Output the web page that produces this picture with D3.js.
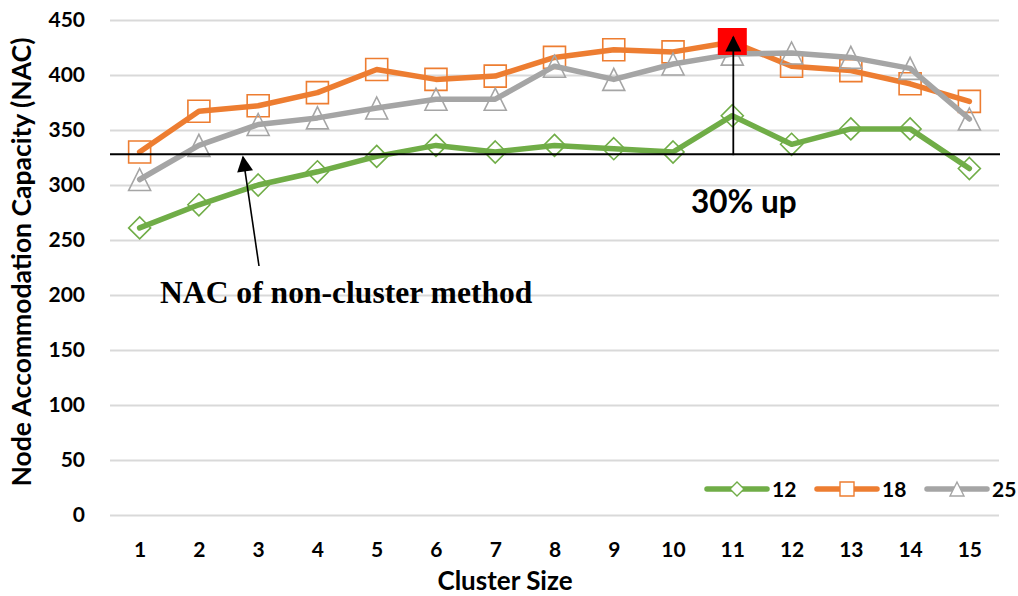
<!DOCTYPE html>
<html>
<head>
<meta charset="utf-8">
<script src="https://cdn.jsdelivr.net/npm/d3@7"></script>
<style>
  body { margin: 0; background: #ffffff; }
  svg { display: block; }
</style>
</head>
<body>
<svg id="chart" width="1018" height="596"></svg>
<script>
// Cluster sizes on the category axis
const clusterSizes = ["1", "2", "3", "4", "5", "6", "7", "8", "9", "10", "11", "12", "13", "14", "15"];
// Node accommodation capacity per cluster size, one array per series
const nac12 = [261, 282, 300, 312, 326, 336, 330, 336, 333, 330, 363, 337, 351, 351, 315];
const nac18 = [330, 367, 372, 384, 405, 396, 399, 416, 423, 421, 430, 408, 404, 392, 376];
const nac25 = [305, 336, 355, 361, 370, 378, 378, 408, 396, 410, 419, 420, 416, 406, 360];
const seriesNames = ["12", "18", "25"];
const yTicks = [0, 50, 100, 150, 200, 250, 300, 350, 400, 450];
// Reference level: NAC without clustering
const nonClusterNAC = 328;
// Highlighted best point (series 18, cluster size 11)
const peakSeries = 1;
const peakIndex = 10;

const svg = d3.select("#chart");
const margin = { left: 110, right: 19, top: 20, bottom: 81 };
const W = 1018, H = 596;
const plotL = margin.left, plotR = W - margin.right;
const plotT = margin.top, plotB = H - margin.bottom;

const x = d3.scalePoint().domain(clusterSizes).range([plotL, plotR]).padding(0.5);
const y = d3.scaleLinear().domain([0, 450]).range([plotB, plotT]);

const labelFont = "Lato, 'Open Sans', sans-serif";
const colors = ["#70AD47", "#ED7D31", "#A5A5A5"];
const seriesData = [nac12, nac18, nac25];

// Y axis with horizontal gridlines
const yAxis = svg.append("g")
  .attr("transform", `translate(${plotL},0)`)
  .call(d3.axisLeft(y).tickValues(yTicks).tickSize(-(plotR - plotL)).tickPadding(25));
yAxis.select(".domain").remove();
yAxis.selectAll(".tick line").attr("stroke", "#D9D9D9").attr("stroke-width", 2);
yAxis.selectAll(".tick text")
  .attr("fill", "#000").style("font-family", labelFont)
  .style("font-weight", 700).style("font-size", "21px");

// X axis labels (no axis line)
const xAxis = svg.append("g")
  .attr("transform", `translate(0,${plotB})`)
  .call(d3.axisBottom(x).tickSize(0).tickPadding(27));
xAxis.select(".domain").remove();
xAxis.selectAll(".tick text")
  .attr("fill", "#000").style("font-family", labelFont)
  .style("font-weight", 700).style("font-size", "21px");

// Axis titles
svg.append("text")
  .attr("transform", `translate(31,262) rotate(-90)`)
  .attr("text-anchor", "middle")
  .style("font-family", labelFont).style("font-weight", 700).style("font-size", "26.5px")
  .text("Node Accommodation Capacity (NAC)");

svg.append("text")
  .attr("x", 505).attr("y", 590)
  .attr("text-anchor", "middle")
  .style("font-family", labelFont).style("font-weight", 700).style("font-size", "26px")
  .text("Cluster Size");

// Marker outlines centred on the point
function markerPath(kind, s) {
  const h = s / 2;
  if (kind === 0) return `M0,${-h}L${h},0L0,${h}L${-h},0Z`;
  if (kind === 1) return `M${-h},${-h}H${h}V${h}H${-h}Z`;
  return `M0,${-h}L${h},${h}L${-h},${h}Z`;
}

const line = d3.line()
  .x((d, i) => x(clusterSizes[i]))
  .y(d => y(d));

seriesData.forEach((vals, k) => {
  const g = svg.append("g");
  g.append("path")
    .datum(vals)
    .attr("d", line)
    .attr("fill", "none")
    .attr("stroke", colors[k])
    .attr("stroke-width", 5.5)
    .attr("stroke-linejoin", "round")
    .attr("stroke-linecap", "round");
  g.selectAll("path.marker")
    .data(vals)
    .join("path")
    .attr("class", "marker")
    .attr("transform", (d, i) => `translate(${x(clusterSizes[i])},${y(d)})`)
    .attr("d", markerPath(k, 22))
    .attr("fill", "none")
    .attr("stroke", colors[k])
    .attr("stroke-width", 1.6);
});

// Non-cluster reference line
svg.append("line")
  .attr("x1", plotL).attr("x2", plotR + 1)
  .attr("y1", y(nonClusterNAC)).attr("y2", y(nonClusterNAC))
  .attr("stroke", "#000").attr("stroke-width", 2);

// Highlighted peak marker
const peakX = x(clusterSizes[peakIndex]);
const peakY = y(seriesData[peakSeries][peakIndex]);
svg.append("rect")
  .attr("x", peakX - 14.5).attr("y", peakY - 14)
  .attr("width", 29).attr("height", 27)
  .attr("fill", "#FF0000");

// Arrow marker definition
svg.append("defs").append("marker")
  .attr("id", "arrowHead")
  .attr("viewBox", "0 0 10 10")
  .attr("refX", 9).attr("refY", 5)
  .attr("markerUnits", "userSpaceOnUse")
  .attr("markerWidth", 17).attr("markerHeight", 16)
  .attr("orient", "auto")
  .append("path").attr("d", "M0,0L10,5L0,10Z").attr("fill", "#000");

// "30% up" arrow from the reference level to the peak
svg.append("line")
  .attr("x1", peakX + 1).attr("x2", peakX + 1)
  .attr("y1", y(nonClusterNAC) + 1).attr("y2", peakY - 5)
  .attr("stroke", "#000").attr("stroke-width", 1.8)
  .attr("marker-end", "url(#arrowHead)");

svg.append("text")
  .attr("x", 691).attr("y", 213)
  .style("font-family", labelFont).style("font-weight", 700).style("font-size", "31.5px")
  .text("30% up");

// Arrow pointing at the non-cluster level
svg.append("line")
  .attr("x1", 259).attr("y1", 266)
  .attr("x2", 243).attr("y2", y(nonClusterNAC) + 3)
  .attr("stroke", "#000").attr("stroke-width", 1.6)
  .attr("marker-end", "url(#arrowHead)");

svg.append("text")
  .attr("x", 160).attr("y", 303)
  .style("font-family", "'Liberation Serif', 'Times New Roman', serif")
  .style("font-weight", 700).style("font-size", "31.6px")
  .text("NAC of non-cluster method");

// Legend
const legend = svg.append("g").attr("transform", "translate(707,489)");
seriesNames.forEach((name, k) => {
  const g = legend.append("g").attr("transform", `translate(${k * 110},0)`);
  g.append("line").attr("x1", 0).attr("x2", 60).attr("y1", 0).attr("y2", 0)
    .attr("stroke", colors[k]).attr("stroke-width", 5.5).attr("stroke-linecap", "round");
  g.append("path").attr("transform", "translate(30,0)")
    .attr("d", markerPath(k, 14)).attr("fill", "#fff")
    .attr("stroke", colors[k]).attr("stroke-width", 1.4);
  g.append("text").attr("x", 65).attr("y", 8)
    .style("font-family", labelFont).style("font-weight", 700).style("font-size", "21px")
    .text(name);
});
</script>
</body>
</html>
